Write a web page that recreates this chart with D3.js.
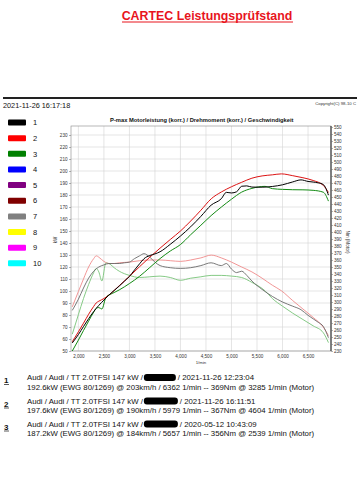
<!DOCTYPE html>
<html><head><meta charset="utf-8">
<script src="https://cdnjs.cloudflare.com/ajax/libs/d3/7.8.5/d3.min.js"></script>
<style>body{margin:0;background:#fff}svg{display:block;font-family:"Liberation Sans",Arial,sans-serif}</style>
</head><body><svg id="c" width="357" height="500"></svg>
<script>
// ---- data ----
const rpm1 = [1880,2000,2100,2200,2300,2400,2500,2600,2700,2800,2900,3000,3100,3200,3285,3400,3500,3600,3800,4000,4200,4400,4600,4800,4900,5000,5100,5200,5300,5400,5600,5800,6000,6200,6362,6500,6600,6700,6800,6900];
const kw1  = [56.7,63.7,70.4,76.9,82.9,88.0,92.4,96.7,100.4,104.1,108.1,112.2,117.5,122.7,126.9,129.6,130.9,132.7,138.9,145.8,153.5,162.2,171.5,176.9,182.2,181.7,182.7,187.3,187.6,186.6,186.5,187.1,188.5,190.9,192.6,191.3,190.8,190.1,188.7,179.9];
const nm1  = [288,304,320,334,344,350,353,355,355,355,356,357,362,366,369,364,357,352,349,348,349,352,356,352,355,347,342,344,338,330,318,308,300,294,289,281,276,271,265,249];

const rpm2 = [1880,2000,2100,2200,2300,2350,2400,2500,2600,2700,2800,3000,3200,3400,3600,3800,4000,4200,4400,4604,4800,5000,5200,5400,5600,5800,5979,6200,6400,6600,6800,6900];
const kw2  = [57.7,66.0,73.2,80.6,87.2,90.1,91.5,93.7,96.7,100.4,104.4,112.2,120.3,128.2,135.7,142.9,150.0,158.3,167.3,176.9,182.5,186.9,190.6,194.0,195.9,196.8,197.6,196.1,194.4,192.1,188.0,182.1];
const nm2  = [293,315,333,350,362,366,364,358,355,355,356,357,359,360,360,359,358,360,363,367,363,357,350,343,334,324,316,302,290,278,264,252];

const rpm3 = [1880,2000,2100,2200,2300,2350,2400,2460,2539,2620,2700,2800,3000,3200,3400,3600,3800,4000,4200,4400,4600,4800,5000,5200,5400,5657,5800,6000,6200,6400,6600,6800,6900];
const kw3  = [50.0,59.1,67.1,74.9,82.4,85.6,86.2,85.0,94.7,97.1,98.7,100.9,106.2,112.3,119.6,127.0,133.3,138.7,146.9,154.8,162.8,169.9,176.5,182.4,185.5,187.2,185.3,184.7,184.4,184.3,183.9,182.3,174.9];
const nm3  = [254,282,305,325,342,348,343,330,356,354,349,344,338,335,336,337,335,331,334,336,338,338,337,335,328,316,305,294,284,275,266,256,242];

const xTicks  = [2000,2500,3000,3500,4000,4500,5000,5500,6000,6500];
const kwTicks = [50,60,70,80,90,100,110,120,130,140,150,160,170,180,190,200,210,220,230];
const nmTicks = [230,240,250,260,270,280,290,300,310,320,330,340,350,360,370,380,390,400,410,420,430,440,450,460,470,480,490,500,510,520,530,540,550];

const legendLabels = ["1","2","3","4","5","6","7","8","9","10"];
const legendColors = ["#000000","#ff0000","#008000","#0000ff","#800080","#800000","#808080","#ffff00","#ff00ff","#00ffff"];

const entryNums  = ["1","2","3"];
const entryHead  = ["Audi / Audi / TT 2.0TFSI 147 kW / ","Audi / Audi / TT 2.0TFSI 147 kW / ","Audi / Audi / TT 2.0TFSI 147 kW / "];
const entryDate  = ["/ 2021-11-26 12:23:04","/ 2021-11-26 16:11:51","/ 2020-05-12 10:43:09"];
const entryLine2 = ["192.6kW (EWG 80/1269) @ 203km/h / 6362 1/min -- 369Nm @ 3285 1/min (Motor)",
                    "197.6kW (EWG 80/1269) @ 190km/h / 5979 1/min -- 367Nm @ 4604 1/min (Motor)",
                    "187.2kW (EWG 80/1269) @ 184km/h / 5657 1/min -- 356Nm @ 2539 1/min (Motor)"];

// ---- drawing ----
const svg = d3.select("#c");
const L = 71, R = 331, T = 126, B = 351;
const x = d3.scaleLinear().domain([1855, 6950]).range([L, R]);
const yKw = d3.scaleLinear().domain([50, 237.5]).range([B, T]);
const yNm = d3.scaleLinear().domain([230, 550]).range([B, 127]);

// title
svg.append("text").attr("x", 207).attr("y", 20).attr("text-anchor", "middle")
  .attr("font-size", 12.4).attr("font-weight", "bold").attr("fill", "#e8141c")
  .text("CARTEC Leistungsprüfstand");
svg.append("line").attr("x1", 122).attr("x2", 293).attr("y1", 22).attr("y2", 22)
  .attr("stroke", "#e8141c").attr("stroke-width", 1);

svg.append("line").attr("x1", 3).attr("x2", 357).attr("y1", 98).attr("y2", 98)
  .attr("stroke", "#222").attr("stroke-width", 2);
svg.append("text").attr("x", 3).attr("y", 108).attr("font-size", 7.3).attr("fill", "#111")
  .text("2021-11-26 16:17:18");
svg.append("text").attr("x", 356).attr("y", 105).attr("text-anchor", "end").attr("font-size", 4.3).attr("fill", "#333")
  .text("Copyright(C) 98-10 C");

// legend
const lg = svg.append("g");
legendLabels.forEach((lab, i) => {
  const cy = 122.5 + i * 15.65;
  lg.append("rect").attr("x", 8).attr("y", cy - 3).attr("width", 18).attr("height", 6)
    .attr("rx", 1).attr("fill", legendColors[i]);
  lg.append("text").attr("x", 33).attr("y", cy + 2.7).attr("font-size", 7.5).attr("fill", "#111").text(lab);
});

// chart title
svg.append("text").attr("x", 201.8).attr("y", 122).attr("text-anchor", "middle")
  .attr("font-size", 5.75).attr("font-weight", "bold").attr("fill", "#111")
  .text("P-max Motorleistung (korr.) / Drehmoment (korr.) / Geschwindigkeit");

// grid
const grid = svg.append("g").attr("stroke", "#d4d4d4").attr("stroke-width", 0.6);
kwTicks.forEach(v => grid.append("line").attr("x1", L).attr("x2", R).attr("y1", yKw(v)).attr("y2", yKw(v)));
xTicks.forEach(v => grid.append("line").attr("x1", x(v)).attr("x2", x(v)).attr("y1", T).attr("y2", B));

// frame
svg.append("rect").attr("x", L).attr("y", T).attr("width", R - L).attr("height", B - T)
  .attr("fill", "none").attr("stroke", "#888").attr("stroke-width", 0.6);
svg.append("line").attr("x1", R).attr("x2", R).attr("y1", T).attr("y2", B)
  .attr("stroke", "#222").attr("stroke-width", 1);

// axes
const axL = d3.axisLeft(yKw).tickValues(kwTicks).tickSize(2).tickFormat(d3.format("d"));
const gL = svg.append("g").attr("transform", `translate(${L},0)`).call(axL);
const axR = d3.axisRight(yNm).tickValues(nmTicks).tickSize(2).tickFormat(d3.format("d"));
const gR = svg.append("g").attr("transform", `translate(${R},0)`).call(axR);
const axB = d3.axisBottom(x).tickValues(xTicks).tickSize(0).tickFormat(d3.format(",d"));
const gB = svg.append("g").attr("transform", `translate(0,${B})`).call(axB);
[gL, gR, gB].forEach(g => {
  g.select(".domain").remove();
  g.selectAll(".tick line").attr("stroke", "#666").attr("stroke-width", 0.5);
  g.selectAll("text").attr("font-size", 4.6).attr("fill", "#333").attr("font-family", "Liberation Sans, Arial, sans-serif");
});
gL.selectAll("text").attr("x", -3.5);
gR.selectAll("text").attr("x", 3);
gB.selectAll("text").attr("y", 4);

svg.append("text").attr("transform", "translate(57,240) rotate(-90)").attr("text-anchor", "middle")
  .attr("font-size", 4.6).attr("fill", "#333").text("kW");
svg.append("text").attr("transform", "translate(346,242) rotate(90)").attr("text-anchor", "middle")
  .attr("font-size", 4.6).attr("fill", "#333").text("Nm (Motor)");
svg.append("text").attr("x", 201).attr("y", 364).attr("text-anchor", "middle")
  .attr("font-size", 4.3).attr("fill", "#333").text("1/min");

// curves
svg.append("clipPath").attr("id", "pc").append("rect").attr("x", L).attr("y", T).attr("width", R - L).attr("height", B - T);
const plot = svg.append("g").attr("clip-path", "url(#pc)");
const series = [
  {rpm: rpm1, kw: kw1, nm: nm1, pc: "#000000", tc: "#6a6a6a"},
  {rpm: rpm2, kw: kw2, nm: nm2, pc: "#dc1414", tc: "#ef8a8a"},
  {rpm: rpm3, kw: kw3, nm: nm3, pc: "#138a13", tc: "#78c478"}
];
const lineKw = d3.line().x(d => x(d[0])).y(d => yKw(d[1])).curve(d3.curveMonotoneX);
const lineNm = d3.line().x(d => x(d[0])).y(d => yNm(d[1])).curve(d3.curveMonotoneX);
series.slice().reverse().forEach(s => {
  plot.append("path").attr("d", lineNm(d3.zip(s.rpm, s.nm))).attr("fill", "none")
    .attr("stroke", s.tc).attr("stroke-width", 0.9);
});
series.slice().reverse().forEach(s => {
  plot.append("path").attr("d", lineKw(d3.zip(s.rpm, s.kw))).attr("fill", "none")
    .attr("stroke", s.pc).attr("stroke-width", 1);
});

// bottom entries
const baseY = [380, 403.5, 426.5];
const fs = 7.8;
entryNums.forEach((n, i) => {
  const y0 = baseY[i];
  svg.append("text").attr("x", 4).attr("y", y0 + 3).attr("font-size", 8).attr("font-weight", "bold")
    .attr("fill", "#111").text(n);
  svg.append("line").attr("x1", 4).attr("x2", 9).attr("y1", y0 + 4.5).attr("y2", y0 + 4.5)
    .attr("stroke", "#111").attr("stroke-width", 0.7);
  const t1 = svg.append("text").attr("x", 27).attr("y", y0).attr("font-size", fs).attr("fill", "#111").text(entryHead[i]);
  const w = t1.node().getComputedTextLength();
  const bw = i === 0 ? 32 : 34;
  svg.append("rect").attr("x", 27 + w + 1).attr("y", y0 - 6).attr("width", bw).attr("height", 7)
    .attr("rx", 3).attr("fill", "#000");
  svg.append("text").attr("x", 27 + w + bw + 3).attr("y", y0).attr("font-size", fs).attr("fill", "#111").text(entryDate[i]);
  svg.append("text").attr("x", 27).attr("y", y0 + 9.8).attr("font-size", fs).attr("fill", "#111").text(entryLine2[i]);
});
</script></body></html>
